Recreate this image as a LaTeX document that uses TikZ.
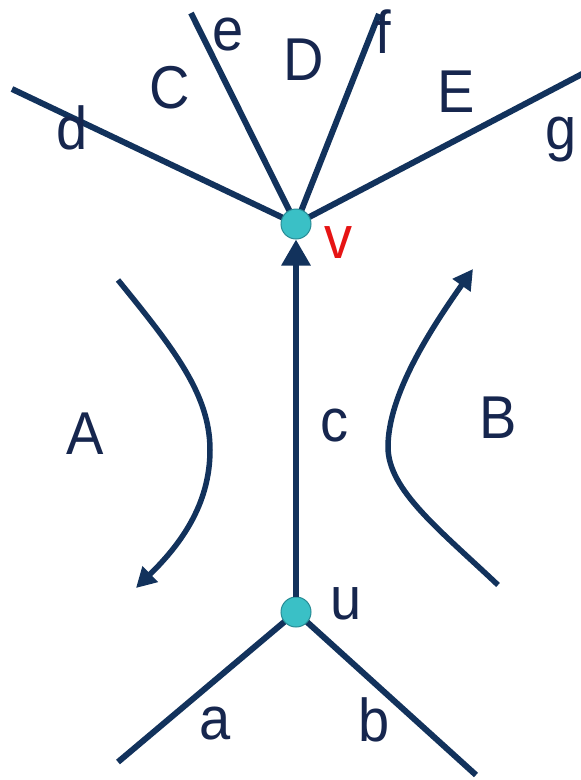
\documentclass[tikz,border=0pt]{standalone}
\usepackage{fontspec}
\setmainfont{Liberation Sans}
\usetikzlibrary{arrows.meta}
\definecolor{navy}{RGB}{18,50,92}
\definecolor{txt}{RGB}{22,38,78}
\definecolor{vfill}{RGB}{58,192,198}
\definecolor{vdraw}{RGB}{40,140,150}
\definecolor{vred}{RGB}{230,20,20}
\begin{document}
\begin{tikzpicture}[x=1pt,y=-1pt,
  edge/.style={draw=navy,line width=6pt},
  vert/.style={circle,fill=vfill,draw=vdraw,line width=1pt,minimum size=30pt,inner sep=0pt},
  lbl/.style={text=txt,font=\fontsize{56}{60}\selectfont,inner sep=0pt,yscale=1.08},
  turn/.style={draw=navy,line width=5.5pt,-{Triangle[length=20pt,width=21pt]}}]
\useasboundingbox[fill=white] (0,0) rectangle (581,780);
\coordinate (vc) at (296,224);
\coordinate (uc) at (296,612);
\coordinate (dend) at (12,89);
\coordinate (eend) at (191,13);
\coordinate (fend) at (379,14);
\coordinate (gend) at (584,73);
\coordinate (aend) at (118,762);
\coordinate (bend) at (476,775);
\draw[edge] (vc) -- (dend);
\draw[edge] (vc) -- (eend);
\draw[edge] (vc) -- (fend);
\draw[edge] (vc) -- (gend);
\draw[edge] (uc) -- (aend);
\draw[edge] (uc) -- (bend);
\node[vert] (v) at (vc) {};
\node[vert] (u) at (uc) {};
\draw[edge,-{Triangle[length=26pt,width=28pt]}] (u) -- (v);
% turning arrows
\coordinate (a0) at (118,280);
\coordinate (a1) at (210,450);
\coordinate (a2) at (136,588);
\draw[turn] (a0) .. controls (175,350) and (210,395) .. (a1) .. controls (210,505) and (180,545) .. (a2);
\coordinate (b0) at (498,585);
\coordinate (b1) at (388,447);
\coordinate (b2) at (473,269);
\draw[turn] (b0) .. controls (440,530) and (388,490) .. (b1) .. controls (388,395) and (430,330) .. (b2);
% labels
\node[lbl] (ld) at (72,128) {d};
\node[lbl] (lC) at (170,88) {C};
\node[lbl] (le) at (228,35) {e};
\node[lbl] (lD) at (304,60) {D};
\node[lbl] (lf) at (383,32) {f};
\node[lbl] (lE) at (456,92) {E};
\node[lbl] (lg) at (561,140) {g};
\node[lbl,text=vred] (lv) at (338,243) {v};
\node[lbl] (lA) at (85,434) {A};
\node[lbl] (lc) at (334,426) {c};
\node[lbl] (lB) at (498,418) {B};
\node[lbl] (lu) at (346,604) {u};
\node[lbl] (la) at (215,724) {a};
\node[lbl] (lb) at (374,720) {b};
\end{tikzpicture}
\end{document}
